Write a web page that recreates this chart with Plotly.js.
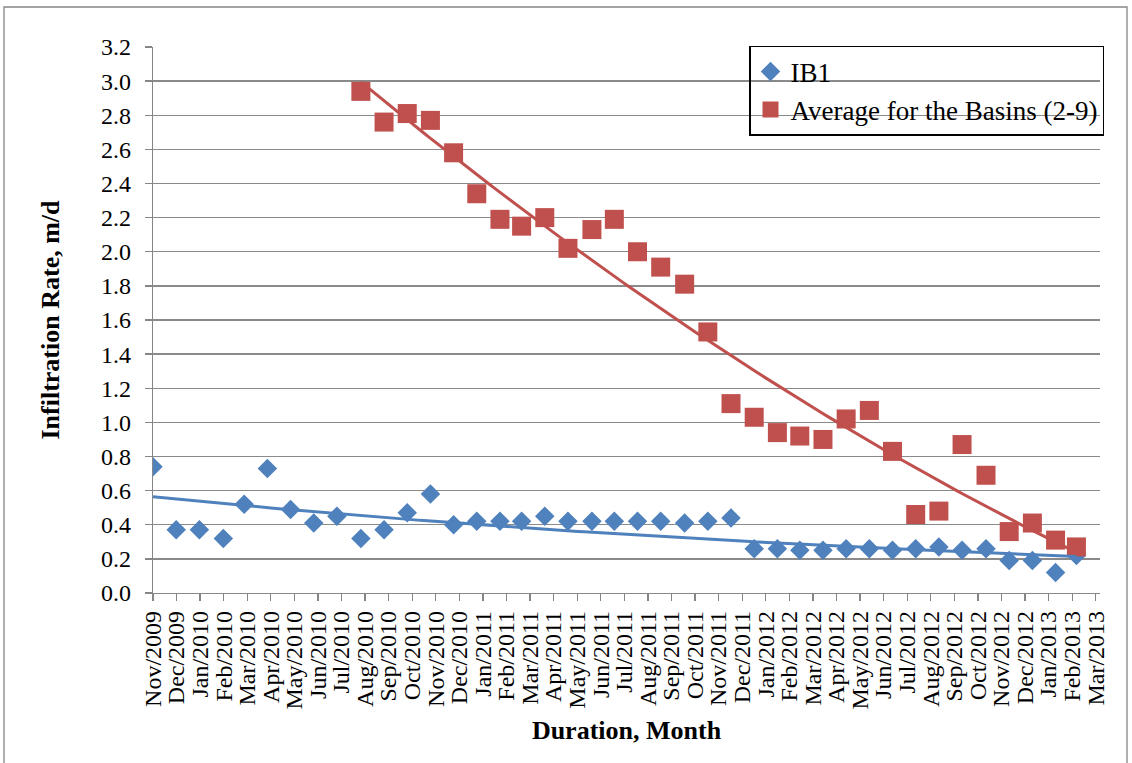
<!DOCTYPE html>
<html>
<head>
<meta charset="utf-8">
<script src="https://cdn.plot.ly/plotly-3.0.1.min.js"></script>
<style>html,body{margin:0;padding:0;background:#fff}#chart{width:1132px;height:763px}</style>
</head>
<body>
<div id="chart"></div>
<script>
// Sampling dates
const sampleDates = [
  '2009-11-01','2009-12-01','2009-12-31','2010-01-31','2010-02-27','2010-03-29',
  '2010-04-28','2010-05-28','2010-06-27','2010-07-28','2010-08-27','2010-09-26',
  '2010-10-26','2010-11-25','2010-12-25','2011-01-24','2011-02-21','2011-03-23',
  '2011-04-22','2011-05-23','2011-06-21','2011-07-21','2011-08-20','2011-09-20',
  '2011-10-20','2011-11-19','2011-12-19','2012-01-18','2012-02-16','2012-03-17',
  '2012-04-16','2012-05-16','2012-06-15','2012-07-15','2012-08-14','2012-09-13',
  '2012-10-14','2012-11-13','2012-12-13','2013-01-12','2013-02-08'
];
// IB1 infiltration rate, m/d
const ib1Values = [
  0.74, 0.37, 0.37, 0.32, 0.52, 0.73, 0.49, 0.41, 0.45, 0.32, 0.37, 0.47,
  0.58, 0.40, 0.42, 0.42, 0.42, 0.45, 0.42, 0.42, 0.42, 0.42, 0.42, 0.41,
  0.42, 0.44, 0.26, 0.26, 0.25, 0.25, 0.26, 0.26, 0.25, 0.26, 0.27, 0.25,
  0.26, 0.19, 0.19, 0.12, 0.22
];
// Average for the basins (2-9): sampled from Jul/2010 onward
const basinDates = sampleDates.slice(9);
const basinValues = [
  2.94, 2.76, 2.81, 2.77, 2.58, 2.34, 2.19, 2.15, 2.20, 2.02, 2.13, 2.19,
  2.00, 1.91, 1.81, 1.53, 1.11, 1.03, 0.94, 0.92, 0.90, 1.02, 1.07, 0.83,
  0.46, 0.48, 0.87, 0.69, 0.36, 0.41, 0.31, 0.27
];
const tickLabels = [
  'Nov/2009','Dec/2009',
  'Jan/2010','Feb/2010','Mar/2010','Apr/2010','May/2010','Jun/2010','Jul/2010','Aug/2010','Sep/2010','Oct/2010','Nov/2010','Dec/2010',
  'Jan/2011','Feb/2011','Mar/2011','Apr/2011','May/2011','Jun/2011','Jul/2011','Aug/2011','Sep/2011','Oct/2011','Nov/2011','Dec/2011',
  'Jan/2012','Feb/2012','Mar/2012','Apr/2012','May/2012','Jun/2012','Jul/2012','Aug/2012','Sep/2012','Oct/2012','Nov/2012','Dec/2012',
  'Jan/2013','Feb/2013','Mar/2013'
];

const DAY = 86400000;
const toMs = s => Date.parse(s + 'T00:00:00Z');
const axisStartMs = Date.UTC(2009, 10, 1);
const tickStepDays = 30.5;
const tickVals = tickLabels.map((_, i) => axisStartMs + i * tickStepDays * DAY);

// Exponential trendline (least squares on ln y), as in Excel
function expTrend(dates, vals) {
  const t = dates.map(d => (toMs(d) - axisStartMs) / DAY);
  const ly = vals.map(v => Math.log(v));
  const n = t.length;
  const mt = t.reduce((a, b) => a + b, 0) / n;
  const my = ly.reduce((a, b) => a + b, 0) / n;
  let sxy = 0, sxx = 0;
  for (let i = 0; i < n; i++) { sxy += (t[i] - mt) * (ly[i] - my); sxx += (t[i] - mt) ** 2; }
  const b = sxy / sxx, a = my - b * mt;
  return tt => Math.exp(a + b * tt);
}
// Polynomial (order 2) trendline
function polyTrend(dates, vals) {
  const t = dates.map(d => (toMs(d) - axisStartMs) / DAY / 100);
  const S = [0, 0, 0, 0, 0], T = [0, 0, 0];
  for (let i = 0; i < t.length; i++) {
    for (let k = 0; k < 5; k++) S[k] += t[i] ** k;
    for (let k = 0; k < 3; k++) T[k] += vals[i] * t[i] ** k;
  }
  const M = [[S[0], S[1], S[2], T[0]], [S[1], S[2], S[3], T[1]], [S[2], S[3], S[4], T[2]]];
  for (let c = 0; c < 3; c++) {
    for (let r = c + 1; r < 3; r++) {
      const f = M[r][c] / M[c][c];
      for (let k = c; k < 4; k++) M[r][k] -= f * M[c][k];
    }
  }
  const x = [0, 0, 0];
  for (let r = 2; r >= 0; r--) {
    let s = M[r][3];
    for (let k = r + 1; k < 3; k++) s -= M[r][k] * x[k];
    x[r] = s / M[r][r];
  }
  return tt => x[0] + x[1] * (tt / 100) + x[2] * (tt / 100) ** 2;
}
function sampleTrend(fn, dates, steps) {
  const t0 = (toMs(dates[0]) - axisStartMs) / DAY;
  const t1 = (toMs(dates[dates.length - 1]) - axisStartMs) / DAY;
  const xs = [], ys = [];
  for (let i = 0; i <= steps; i++) {
    const tt = t0 + (t1 - t0) * i / steps;
    xs.push(axisStartMs + tt * DAY);
    ys.push(fn(tt));
  }
  return {xs, ys};
}

const blueC = '#4F81BD', redC = '#C0504D';
const ibTrend = sampleTrend(expTrend(sampleDates, ib1Values), sampleDates, 150);
const bsTrend = sampleTrend(polyTrend(basinDates, basinValues), basinDates, 150);

const FONT = 'Liberation Serif, Times New Roman, serif';

const traces = [
  {x: sampleDates, y: ib1Values, type: 'scatter', mode: 'markers', name: 'IB1', legendgroup: 'a',
   marker: {symbol: 'diamond', size: 15, color: blueC}},
  {x: basinDates, y: basinValues, type: 'scatter', mode: 'markers', name: 'Average for the Basins (2-9)', legendgroup: 'b',
   marker: {symbol: 'square', size: 19, color: redC}},
  {x: ibTrend.xs, y: ibTrend.ys, type: 'scatter', mode: 'lines', showlegend: false, hoverinfo: 'skip',
   line: {color: blueC, width: 3}},
  {x: bsTrend.xs, y: bsTrend.ys, type: 'scatter', mode: 'lines', showlegend: false, hoverinfo: 'skip',
   line: {color: redC, width: 3}}
];

const layout = {
  width: 1132, height: 763,
  margin: {l: 153, r: 32, t: 47, b: 170, pad: 0},
  paper_bgcolor: '#fff', plot_bgcolor: '#fff',
  font: {family: FONT, color: '#000'},
  showlegend: true,
  xaxis: {
    type: 'date',
    range: ['2009-11-01', '2013-03-10 12:00'],
    tickmode: 'array', tickvals: tickVals, ticktext: tickLabels,
    tickangle: -90,
    ticks: 'outside', ticklen: 7, tickcolor: '#868686', tickwidth: 1.3,
    showline: true, linecolor: '#868686', linewidth: 1.3,
    showgrid: false, zeroline: false,
    tickfont: {family: FONT, size: 24, color: '#000'},
    title: {text: 'Duration, Month', font: {family: FONT, size: 26, color: '#000', weight: 'bold'}, standoff: 12}
  },
  yaxis: {
    range: [0, 3.2], tick0: 0, dtick: 0.2, tickformat: '.1f',
    ticks: 'outside', ticklen: 7, tickcolor: '#868686', tickwidth: 1.3,
    showline: true, linecolor: '#868686', linewidth: 1.3,
    showgrid: true, gridcolor: '#8a8a8a', gridwidth: 1.3,
    zeroline: false,
    ticklabelstandoff: 9,
    tickfont: {family: FONT, size: 24, color: '#000'},
    title: {text: 'Infiltration Rate, m/d', font: {family: FONT, size: 26, color: '#000', weight: 'bold'}, standoff: 33}
  },
  legend: {
    x: (749 - 153) / 947, y: 1.002, xanchor: 'left', yanchor: 'top',
    bgcolor: 'rgba(0,0,0,0)', bordercolor: '#000', borderwidth: 1.5,
    font: {family: FONT, size: 27, color: '#000'},
    tracegroupgap: 0
  },
  shapes: [{
    type: 'rect', xref: 'paper', yref: 'paper',
    x0: (4 - 153) / 947, x1: (1127 - 153) / 947, y0: -0.4, y1: (593 - 7) / 546,
    line: {color: '#868686', width: 1.3}, fillcolor: 'rgba(0,0,0,0)', layer: 'below'
  }]
};

Plotly.newPlot('chart', traces, layout, {displayModeBar: false, staticPlot: true});
</script>
</body>
</html>
